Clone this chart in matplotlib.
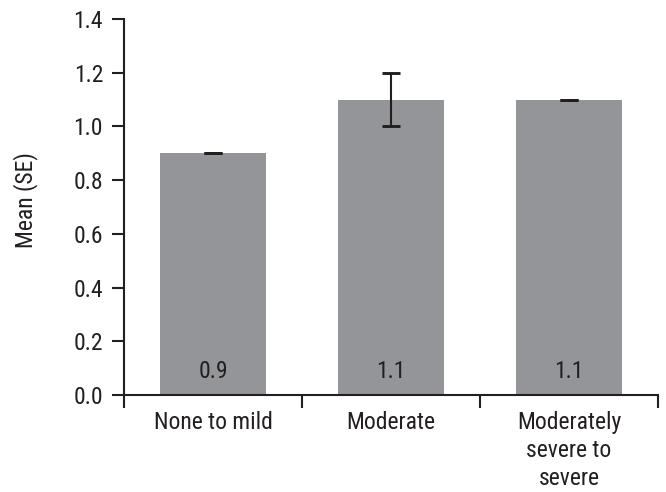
import matplotlib
matplotlib.use("Agg")
import matplotlib.pyplot as plt
from matplotlib import font_manager
from matplotlib.font_manager import FontProperties
from matplotlib.textpath import TextPath

categories = ["None to mild", "Moderate", "Moderately\nsevere to\nsevere"]
means = [0.9, 1.1, 1.1]
errors = [0.0, 0.1, 0.0]
value_labels = ["0.9", "1.1", "1.1"]
yticks = [0.0, 0.2, 0.4, 0.6, 0.8, 1.0, 1.2, 1.4]

# pick the installed Helvetica-like condensed sans whose proportions best match
DPI = 100
target_ratio = 122 / 16.7  # width of "None to mild" / cap height, in pixels
names = {f.name for f in font_manager.fontManager.ttflist}
cands = ["Nimbus Sans Narrow", "Liberation Sans Narrow", "Arial Narrow", "Pragati Narrow",
         "Archivo Narrow", "Roboto Condensed"]
best = None
for c in cands:
    if c not in names:
        continue
    try:
        fp = FontProperties(family=c, weight="normal")
        font_manager.findfont(fp, fallback_to_default=False)
        w = TextPath((0, 0), "None to mild", size=1, prop=fp).get_extents().width
        h = TextPath((0, 0), "N", size=1, prop=fp).get_extents().height
        score = abs(w / h - target_ratio)
        if best is None or score < best[0]:
            best = (score, c, h, fp)
    except Exception:
        continue
if best is None:
    fam = "Liberation Sans"
    fp = FontProperties(family=fam)
    cap_em = TextPath((0, 0), "N", size=1, prop=fp).get_extents().height
else:
    _, fam, cap_em, fp = best
plt.rcParams['font.family'] = [fam, 'DejaVu Sans']

px2pt = 72 / DPI
FS = 16.8 / cap_em * px2pt
ylab_w = TextPath((0, 0), "Mean (SE)", size=1, prop=fp).get_extents().width
FS_Y = min(96 / ylab_w * px2pt, FS)
lp_h = TextPath((0, 0), "lp", size=1, prop=fp).get_extents().height
LSP = (29 / (FS / px2pt)) / lp_h

TXT = "#231f20"
L, R, B, T = 124, 658, 395, 19
fig = plt.figure(figsize=(6.66, 4.92), dpi=DPI)
ax = fig.add_axes([L/666, 1 - B/492, (R-L)/666, (B-T)/492])

x = list(range(len(categories)))
ax.bar(x, means, width=0.6, color="#939598", zorder=1)
ax.errorbar(x, means, yerr=errors, fmt="none", ecolor=TXT, elinewidth=1.5,
            capsize=6.2, capthick=2.1, zorder=2)
for xi, lab in zip(x, value_labels):
    ax.text(xi, 0.087, lab, ha="center", va="center", fontsize=FS, color=TXT)

ax.set_xlim(-0.5, 2.5)
ax.set_ylim(0, 1.4)
ax.set_yticks(yticks)
ax.set_yticklabels([f"{v:.1f}" for v in yticks])
ax.set_xticks([-0.5, 0.5, 1.5, 2.5])
ax.set_xticklabels([])
ax.set_xticks(x, minor=True)
ax.set_xticklabels(categories, minor=True, fontsize=FS, linespacing=LSP)
ax.tick_params(axis="x", which="major", length=9.5, width=1.5, direction="out", color=TXT)
ax.tick_params(axis="x", which="minor", length=0, pad=11.5, labelcolor=TXT)
ax.tick_params(axis="y", length=8.6, width=1.5, direction="out", labelsize=FS, pad=6.5,
               color=TXT, labelcolor=TXT)
for s in ["top", "right"]:
    ax.spines[s].set_visible(False)
for s in ["left", "bottom"]:
    ax.spines[s].set_linewidth(1.5)
    ax.spines[s].set_color(TXT)
ax.set_ylabel("Mean (SE)", fontsize=FS_Y, color=TXT, ha="center", va="center")
ax.yaxis.set_label_coords(-(L - 26) / (R - L), (B - 200) / (B - T))

fig.savefig("out.png", dpi=DPI)
